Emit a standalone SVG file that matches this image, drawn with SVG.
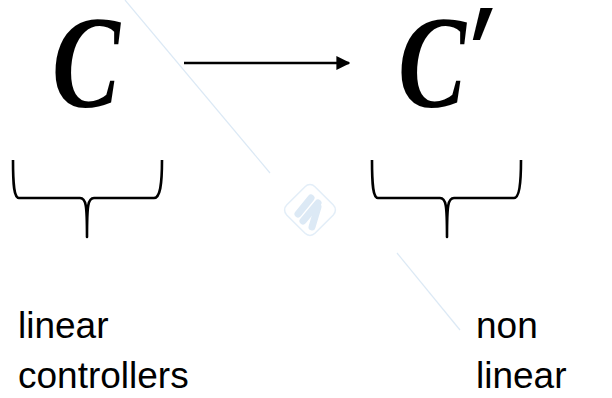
<svg xmlns="http://www.w3.org/2000/svg" width="612" height="398" viewBox="0 0 612 398">
  <defs>
    <marker id="head" viewBox="0 0 10 10" refX="9" refY="5" markerWidth="5.4" markerHeight="5.4" orient="auto" markerUnits="strokeWidth">
      <path d="M0,0 L10,5 L0,10 z" fill="#000"/>
    </marker>
    <style>
      .sym { font-family: "Liberation Serif", "DejaVu Serif", serif; font-size: 132px; font-weight: bold; font-style: italic; fill: #000; }
      .prime { font-family: "DejaVu Sans", sans-serif; font-size: 175px; font-weight: bold; fill: #000; }
      .lbl { font-family: "Liberation Sans", Arial, sans-serif; font-size: 37px; fill: #000; }
      .brace { fill: none; stroke: #000; stroke-width: 2.6; stroke-linecap: butt; stroke-linejoin: round; }
      .mark { fill: none; stroke: #dce9f5; stroke-width: 1.2; }
    </style>
  </defs>

  <rect width="612" height="398" fill="#fff"/>

  <!-- faint background mark -->
  <g id="watermark">
    <line class="mark" x1="125" y1="0" x2="270" y2="173"/>
    <line class="mark" x1="397" y1="253" x2="460" y2="330"/>
    <rect x="290" y="190" width="40" height="40" rx="7" transform="rotate(45 310 210)" fill="none" stroke="#e3eef8" stroke-width="1.5"/>
    <line x1="298" y1="214" x2="311" y2="198" stroke="#dce9f5" stroke-width="7" stroke-linecap="round"/>
    <line x1="303" y1="221" x2="318" y2="203" stroke="#dce9f5" stroke-width="7" stroke-linecap="round"/>
    <line x1="318" y1="207" x2="312" y2="227" stroke="#dce9f5" stroke-width="7" stroke-linecap="round"/>
  </g>

  <g id="node-c">
    <text class="sym" x="52" y="107" textLength="68" lengthAdjust="spacingAndGlyphs">C</text>
  </g>

  <g id="node-c-prime">
    <text class="sym" x="398" y="107" textLength="68" lengthAdjust="spacingAndGlyphs">C</text>
    <text class="prime" x="471" y="136" textLength="24" lengthAdjust="spacingAndGlyphs">′</text>
  </g>

  <g id="connectors">
    <line x1="184" y1="63" x2="349" y2="63" stroke="#000" stroke-width="2.6" marker-end="url(#head)"/>
  </g>

  <g id="brace-left">
    <path class="brace" d="M13,160 C13,185 14,198 19,198 L80,198 C86,198 87,205 87,237 C87,205 88,198 94,198 L154,198 C160,198 162,185 162,160"/>
  </g>

  <g id="brace-right">
    <path class="brace" d="M372,160 C372,185 373,198 378,198 L440,198 C446,198 447,205 447,237 C447,205 448,198 454,198 L514,198 C519,198 521,185 521,160"/>
  </g>

  <g id="label-left">
    <text class="lbl" x="18" y="338">linear</text>
    <text class="lbl" x="18" y="388">controllers</text>
  </g>

  <g id="label-right">
    <text class="lbl" x="476" y="338">non</text>
    <text class="lbl" x="476" y="388">linear</text>
  </g>
</svg>
